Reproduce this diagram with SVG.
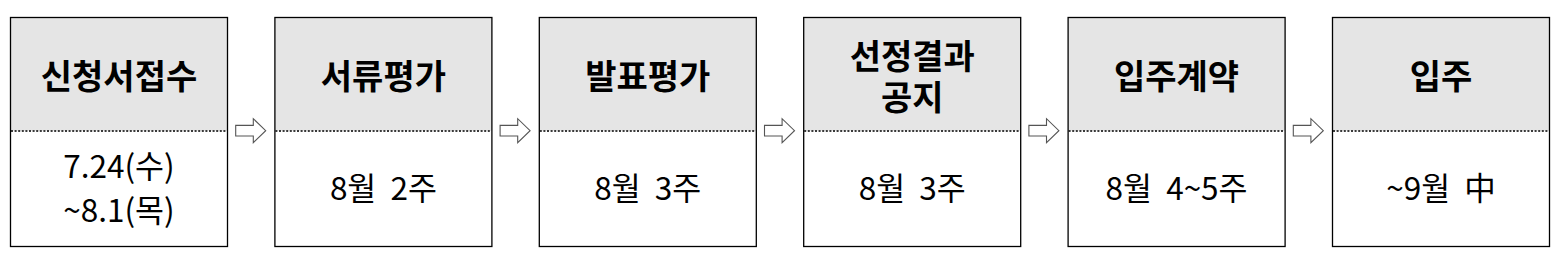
<svg xmlns="http://www.w3.org/2000/svg" xmlns:xlink="http://www.w3.org/1999/xlink" width="1564" height="262" viewBox="0 0 1564 262">
<style>
.box{fill:none;stroke:#000000;stroke-width:1.3}
.head{fill:#e5e5e5;stroke:none}
.div{stroke:#3a3a3a;stroke-width:2;stroke-dasharray:2 1.6;fill:none}
.t{font-family:"Noto Sans CJK KR","Noto Sans",sans-serif;font-weight:700;font-size:34px;fill:#000;text-anchor:middle}
.b{font-family:"Noto Sans CJK KR","Noto Sans",sans-serif;font-weight:400;font-size:31.5px;fill:#000;text-anchor:middle}
.arr{fill:#ffffff;stroke:#555555;stroke-width:1.1;stroke-linejoin:miter}
</style>
<defs>
<path id="arrow" class="arr" d="M0,-5.3 H17.6 V-12 L30,0 L17.6,12 V5.3 H0 Z"/>
</defs>
<rect x="0" y="0" width="1564" height="262" fill="#ffffff"/>

<g id="node1">
<rect class="head" x="10.5" y="17.5" width="217" height="113.5"/>
<line class="div" x1="11" y1="131" x2="227" y2="131"/>
<rect class="box" x="10.5" y="17.5" width="217" height="229"/>
<text class="t" x="119" y="88.6">신청서접수</text>
<text class="b" xml:space="preserve"><tspan x="119" y="177.7">7.24(수)</tspan><tspan x="119" y="222">~8.1(목)</tspan></text>
</g>

<g id="node2">
<rect class="head" x="274.9" y="17.5" width="217" height="113.5"/>
<line class="div" x1="275.4" y1="131" x2="491.4" y2="131"/>
<rect class="box" x="274.9" y="17.5" width="217" height="229"/>
<text class="t" x="383.4" y="88.6">서류평가</text>
<text class="b" x="383.4" y="200" xml:space="preserve">8월  2주</text>
</g>

<g id="node3">
<rect class="head" x="539.3" y="17.5" width="217" height="113.5"/>
<line class="div" x1="539.8" y1="131" x2="755.8" y2="131"/>
<rect class="box" x="539.3" y="17.5" width="217" height="229"/>
<text class="t" x="647.8" y="88.6">발표평가</text>
<text class="b" x="647.8" y="200" xml:space="preserve">8월  3주</text>
</g>

<g id="node4">
<rect class="head" x="803.7" y="17.5" width="217" height="113.5"/>
<line class="div" x1="804.2" y1="131" x2="1020.2" y2="131"/>
<rect class="box" x="803.7" y="17.5" width="217" height="229"/>
<text class="t"><tspan x="912.2" y="69.3">선정결과</tspan><tspan x="912.2" y="110">공지</tspan></text>
<text class="b" x="912.2" y="200" xml:space="preserve">8월  3주</text>
</g>

<g id="node5">
<rect class="head" x="1068.1" y="17.5" width="217" height="113.5"/>
<line class="div" x1="1068.6" y1="131" x2="1284.6" y2="131"/>
<rect class="box" x="1068.1" y="17.5" width="217" height="229"/>
<text class="t" x="1176.6" y="88.6">입주계약</text>
<text class="b" x="1176.6" y="200" xml:space="preserve">8월  4~5주</text>
</g>

<g id="node6">
<rect class="head" x="1332.5" y="17.5" width="217" height="113.5"/>
<line class="div" x1="1333" y1="131" x2="1549" y2="131"/>
<rect class="box" x="1332.5" y="17.5" width="217" height="229"/>
<text class="t" x="1441" y="88.6">입주</text>
<text class="b" x="1441" y="200" xml:space="preserve">~9월  中</text>
</g>

<g id="connectors">
<use xlink:href="#arrow" href="#arrow" x="235.7" y="130.7"/>
<use xlink:href="#arrow" href="#arrow" x="500.1" y="130.7"/>
<use xlink:href="#arrow" href="#arrow" x="764.5" y="130.7"/>
<use xlink:href="#arrow" href="#arrow" x="1028.9" y="130.7"/>
<use xlink:href="#arrow" href="#arrow" x="1293.3" y="130.7"/>
</g>
</svg>
